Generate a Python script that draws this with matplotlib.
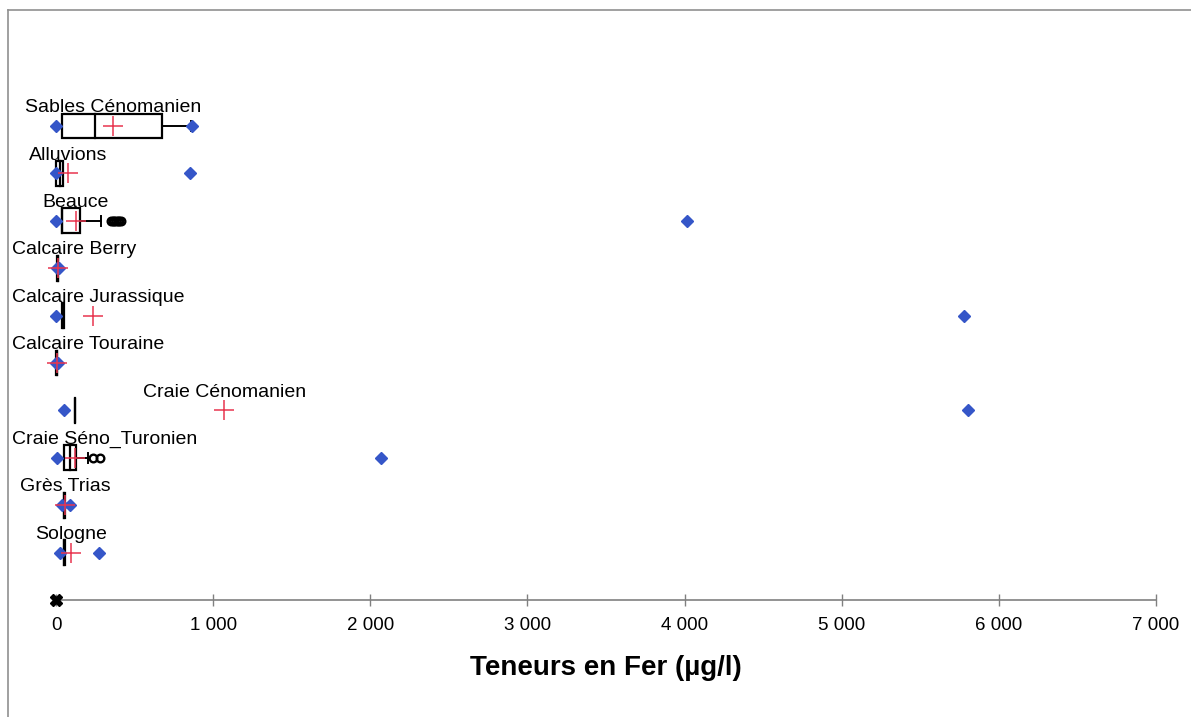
import numpy as np
import matplotlib
matplotlib.use('Agg')
import matplotlib.pyplot as plt
from matplotlib.patches import Rectangle
from matplotlib.lines import Line2D
from matplotlib.ticker import FuncFormatter

# Données (teneurs en fer, µg/l)

noms = ["Sables Cénomanien", "Alluvions", "Beauce", "Calcaire Berry",
        "Calcaire Jurassique", "Calcaire Touraine", "Craie Cénomanien",
        "Craie Séno_Turonien", "Grès Trias", "Sologne"]
minimums = [0, 0, 0, 5, 0, 0, 53, 4, 36, 25]
q1 = [38, 2, 38, 8, 38, 3, 119, 53, 51, 51]
medianes = [248, 25, 40, 10, 43, 5, 121, 89, 53, 53]
q3 = [675, 46, 153, 12, 48, 7, 123, 127, 55, 55]
moyennes = [363, 76, 127, 12, 234, 8, 1070, 121, 60, 96]
moustache_haute = [860, 46, 287, 12, 48, 7, 123, 204, 55, 55]
maximums = [865, 855, 4013, 20, 5777, 15, 5803, 2070, 89, 274]
aberrantes = [[], [], [352, 362, 372, 382, 392, 402, 412], [], [], [],
              [], [238, 282], [], []]
graduations = [0, 1000, 2000, 3000, 4000, 5000, 6000, 7000]

bleu = '#3556c8'
rouge = '#e8364f'

plt.rcParams['font.family'] = ['Liberation Sans', 'DejaVu Sans']

fig = plt.figure(figsize=(11.91, 7.17), dpi=100)
ax = fig.add_axes([56 / 1191, 1 - 600 / 717, 1100 / 1191, 540 / 717])
ax.set_xlim(0, 7000)
ax.set_ylim(10, 10 - 540 / 47.4)

demi_h = 0.26
for i, nom in enumerate(noms):
    # boîte
    ax.add_patch(Rectangle((q1[i], i - demi_h), q3[i] - q1[i], 2 * demi_h,
                           fill=False, edgecolor='black', linewidth=1.6, clip_on=False, zorder=2))
    ax.plot([medianes[i], medianes[i]], [i - demi_h, i + demi_h], color='black', lw=1.6,
            clip_on=False, zorder=2)
    # moustache haute
    if moustache_haute[i] > q3[i]:
        ax.plot([q3[i], moustache_haute[i]], [i, i], color='black', lw=1.4, clip_on=False, zorder=2)
        ax.plot([moustache_haute[i], moustache_haute[i]], [i - 0.1, i + 0.1], color='black', lw=1.4,
                clip_on=False, zorder=2)
    # valeurs aberrantes
    if aberrantes[i]:
        ax.plot(aberrantes[i], [i] * len(aberrantes[i]), 'o', ms=5.5, mfc='none', mec='black',
                mew=1.7, clip_on=False, zorder=3)
    # minimum et maximum
    ax.plot([minimums[i], maximums[i]], [i, i], 'D', ms=6.5, color=bleu, ls='none',
            clip_on=False, zorder=4)
    # moyenne
    ax.plot(moyennes[i], i, '+', ms=15, mew=1.1, color=rouge, clip_on=False, zorder=5)

# étiquettes au-dessus de chaque boîte, centrées sur la moyenne
etiquettes = []
for i, nom in enumerate(noms):
    t = ax.annotate(nom, xy=(moyennes[i], i), xytext=(0, 10), textcoords='offset points',
                    ha='center', va='baseline', fontsize=14, annotation_clip=False)
    etiquettes.append(t)

fig.canvas.draw()
renderer = fig.canvas.get_renderer()
for t in etiquettes:
    bb = t.get_window_extent(renderer)
    if bb.x0 < 12:
        t.xyann = ((12 - bb.x0) * 72 / fig.dpi, 10)

ax.plot(0, 10, 'X', ms=8, color='black', clip_on=False, zorder=6)

# axe horizontal
for cote in ['left', 'right', 'top']:
    ax.spines[cote].set_visible(False)
ax.spines['bottom'].set_color('#808080')
ax.spines['bottom'].set_linewidth(1.2)
ax.set_yticks([])
ax.set_xticks(graduations)
ax.xaxis.set_major_formatter(FuncFormatter(lambda v, p: f"{int(v):,}".replace(',', ' ')))
ax.tick_params(axis='x', direction='inout', length=9, width=1, color='#808080',
               labelsize=13.5, pad=8)
ax.set_xlabel('Teneurs en Fer (µg/l)', fontsize=20, fontweight='bold', labelpad=15)

# cadre partiel autour de la figure
fig.add_artist(Line2D([8 / 1191, 8 / 1191], [0, 1 - 10 / 717], color='#909090', lw=1.2))
fig.add_artist(Line2D([8 / 1191, 1], [1 - 10 / 717, 1 - 10 / 717], color='#909090', lw=1.2))

plt.savefig('out.png', dpi=100)
